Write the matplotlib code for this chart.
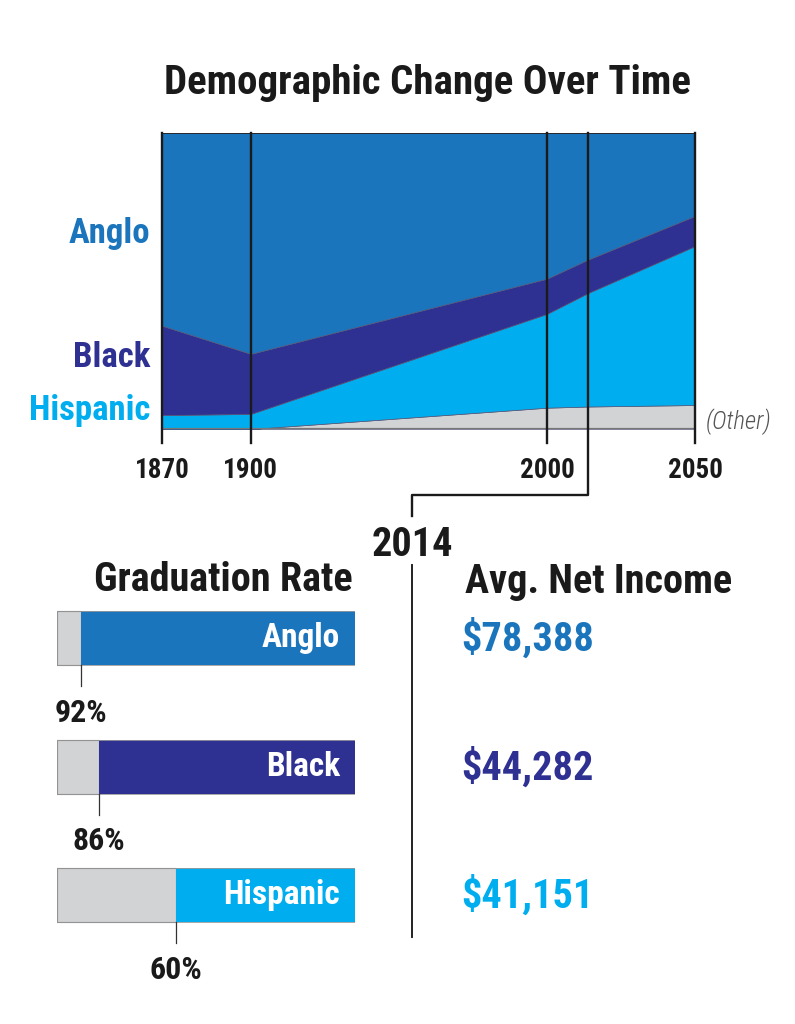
import matplotlib
matplotlib.use("Agg")
import matplotlib.pyplot as plt
import matplotlib.transforms as mtransforms
from matplotlib import font_manager
from matplotlib.lines import Line2D

# demographic shares (percent of population), stacked bottom -> top
years = [1870, 1900, 2000, 2014, 2050]
other = [0.0, 0.0, 7.2, 7.6, 8.1]
hispanic = [4.7, 5.1, 31.7, 38.4, 53.7]
black = [30.2, 20.3, 11.9, 11.3, 10.2]
anglo = [65.1, 74.6, 49.2, 42.7, 28.0]
year_ticks = [1870, 1900, 2000, 2050]
highlight_year = 2014

groups = ["Anglo", "Black", "Hispanic"]
grad_rate = [92, 86, 60]
income = ["$78,388", "$44,282", "$41,151"]

c_anglo = "#1b75bc"
c_black = "#2e3192"
c_hisp = "#00aeef"
c_other = "#d1d3d4"
group_colors = [c_anglo, c_black, c_hisp]

names = {f.name for f in font_manager.fontManager.ttflist}
fam = "DejaVu Sans"
for cand in ["Roboto Condensed", "Liberation Sans Narrow", "Open Sans Condensed"]:
    if cand in names:
        fam = cand
        break
plt.rcParams['font.family'] = [fam, 'DejaVu Sans']

W, H = 795, 1024


def fx(px):
    return px / W


def fy(py):
    return 1 - py / H


fig = plt.figure(figsize=(W / 100, H / 100), dpi=100)

# ---- area chart ----
ax = fig.add_axes([fx(162), fy(429), (695 - 162) / W, (429 - 133) / H])
ax.stackplot(years, other, hispanic, black, anglo,
             colors=[c_other, c_hisp, c_black, c_anglo],
             edgecolor="#555577", linewidth=0.5)
ax.set_xlim(1870, 2050)
ax.set_ylim(0, 100)
ax.axis("off")
ax.axhline(100, color="#222222", lw=1.3)
ax.axhline(0, color="#777777", lw=1.6)

for yr in year_ticks:
    ax.plot([yr, yr], [-4.7, 100], color="#1a1a1a", lw=1.7, clip_on=False)
    ax.text(yr, -14, str(yr), ha="center", va="center", fontsize=19.5,
            weight="bold", color="#1a1a1a")

# connector from 2014 down to the bottom panels
x_sep = ax.transData.inverted().transform(fig.transFigure.transform((fx(412), 0)))[0]
ax.plot([highlight_year, highlight_year, x_sep, x_sep], [100, -22.3, -22.3, -29.5],
        color="#1a1a1a", lw=1.7, clip_on=False)

label_y = [66.2, 24.3, 6.1]
for g, yv, c in zip(groups, label_y, group_colors):
    ax.text(1866, yv, g, ha="right", va="center", fontsize=25,
            weight="bold", color=c)
ax.text(2053.5, 2.4, "(Other)", ha="left", va="center", fontsize=18,
        style="italic", weight="light", color="#555555")

fig.text(fx(427), fy(83), "Demographic Change Over Time", ha="center",
         va="center", fontsize=29.5, weight="bold", color="#1a1a1a")

# ---- graduation bars ----
ax2 = fig.add_axes([fx(57), fy(959.5), (355 - 57) / W, 385.5 / H])
ax2.set_xlim(0, 100)
ax2.set_ylim(2.5, -0.5)
ax2.axis("off")
ypos = list(range(len(groups)))
bh = 0.42
miss = [100 - r for r in grad_rate]
ax2.barh(ypos, miss, left=0, height=bh, color=c_other, edgecolor="#777777", lw=0.8)
ax2.barh(ypos, grad_rate, left=miss, height=bh, color=group_colors)
ax2.barh(ypos, [100] * 3, left=0, height=bh, fill=False, edgecolor="#999999", lw=0.6)

for i, (g, r) in enumerate(zip(groups, grad_rate)):
    ax2.plot([100 - r, 100 - r], [i + bh / 2, i + bh / 2 + 0.165],
             color="#333333", lw=0.9, clip_on=False)
    ax2.text(100 - r, i + 0.58, f"{r}%", ha="center", va="center",
             fontsize=23, weight="bold", color="#1a1a1a", clip_on=False)
    ax2.text(95, i, g, ha="right", va="center", fontsize=24,
             weight="bold", color="white")

# ---- income ----
trans = mtransforms.blended_transform_factory(fig.transFigure, ax2.transData)
for i, (val, c) in enumerate(zip(income, group_colors)):
    ax2.text(fx(461), i, val, transform=trans, ha="left", va="center",
             fontsize=29, weight="bold", color=c, clip_on=False)

fig.text(fx(353), fy(580), "Graduation Rate", ha="right", va="center",
         fontsize=29, weight="bold", color="#1a1a1a")
fig.text(fx(465), fy(582), "Avg. Net Income", ha="left", va="center",
         fontsize=29, weight="bold", color="#1a1a1a")
fig.text(fx(412), fy(545), "2014", ha="center", va="center",
         fontsize=29, weight="bold", color="#1a1a1a")
fig.add_artist(Line2D([fx(412), fx(412)], [fy(565), fy(937)],
                      color="#222222", lw=1.4))

fig.savefig("out.png", dpi=100, facecolor="white")
